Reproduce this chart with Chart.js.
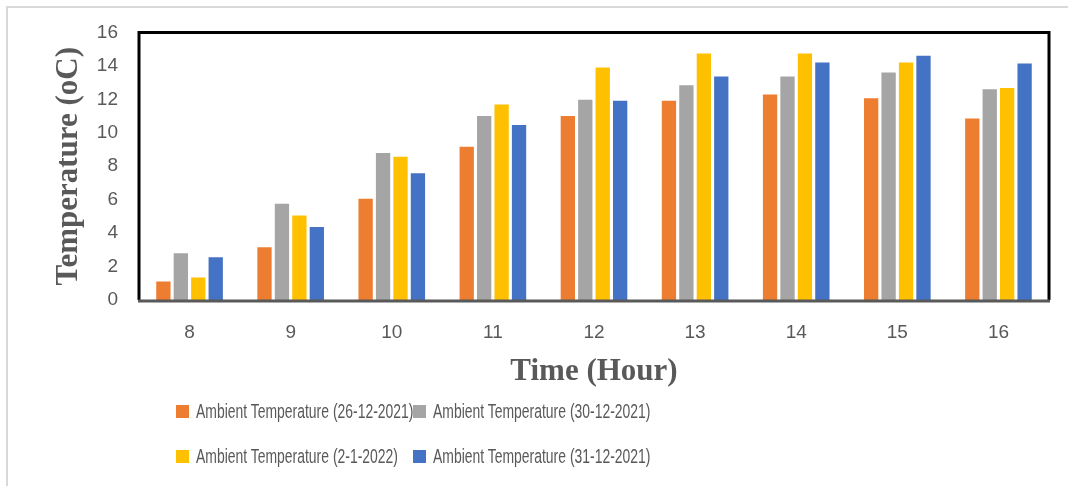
<!DOCTYPE html>
<html>
<head>
<meta charset="utf-8">
<script src="https://cdn.jsdelivr.net/npm/chart.js@4"></script>
<style>
  html, body { margin: 0; padding: 0; background: #fff; }
  #wrap { position: relative; width: 1068px; height: 486px; overflow: hidden; }
  #frame { position: absolute; left: 6px; top: 6px; right: 0; bottom: 0;
           border-left: 2px solid #d9d9d9; border-top: 2px solid #d9d9d9; pointer-events: none; }
  #legend { position: absolute; left: 176px; top: 399px; display: grid;
            grid-template-columns: 237px 400px; row-gap: 21px;
            font-family: 'Liberation Sans', sans-serif;
            font-size: 20.5px; color: #595959; }
  .item { display: flex; align-items: center; height: 24px; white-space: nowrap; }
  .box { width: 13px; height: 13px; margin-right: 7px; flex-shrink: 0; }
  .txt { display: inline-block; transform: scaleX(0.68); transform-origin: left center; }
</style>
</head>
<body>
<div id="wrap">
  <canvas id="chart" width="1068" height="486"></canvas>
  <div id="frame"></div>
  <div id="legend"></div>
</div>
<script>
// horas do dia
const hours = ['8', '9', '10', '11', '12', '13', '14', '15', '16'];

// temperatura ambiente por dia (oC)
const temp26Dec = [1.1, 3.15, 6.05, 9.17, 11.0, 11.92, 12.28, 12.06, 10.85];
const temp30Dec = [2.8, 5.75, 8.79, 11.0, 11.98, 12.84, 13.37, 13.6, 12.6];
const temp2Jan = [1.35, 5.05, 8.57, 11.69, 13.9, 14.74, 14.74, 14.2, 12.68];
const temp31Dec = [2.55, 4.36, 7.58, 10.46, 11.92, 13.37, 14.2, 14.6, 14.14];

const seriesLabels = [
    'Ambient Temperature (26-12-2021)',
    'Ambient Temperature (30-12-2021)',
    'Ambient Temperature (2-1-2022)',
    'Ambient Temperature (31-12-2021)'
];
const seriesColors = ['#ED7D31', '#A5A5A5', '#FFC000', '#4472C4'];
const seriesData = [temp26Dec, temp30Dec, temp2Jan, temp31Dec];

const yTicks = [0, 2, 4, 6, 8, 10, 12, 14, 16];

const gray = '#595959';
const tickFont = { family: "'Liberation Sans', sans-serif", size: 19 };
const titleFont = { family: "'Liberation Serif', serif", size: 31, weight: 'bold' };

// moldura preta em volta da área do gráfico
const plotFrame = {
    id: 'plotFrame',
    afterDatasetsDraw(chart) {
        const { ctx, chartArea: a } = chart;
        ctx.save();
        ctx.strokeStyle = '#000';
        ctx.lineWidth = 3;
        ctx.beginPath();
        ctx.moveTo(a.left, a.bottom);
        ctx.lineTo(a.left, a.top);
        ctx.lineTo(a.right, a.top);
        ctx.lineTo(a.right, a.bottom);
        ctx.stroke();
        ctx.strokeStyle = '#595959';
        ctx.beginPath();
        ctx.moveTo(a.left - 1, a.bottom + 1);
        ctx.lineTo(a.right + 1, a.bottom + 1);
        ctx.stroke();
        ctx.restore();
    }
};

const ctx = document.getElementById('chart').getContext('2d');
const myChart = new Chart(ctx, {
    type: 'bar',
    data: {
        labels: hours,
        datasets: seriesData.map((d, i) => ({
            label: seriesLabels[i],
            data: d,
            backgroundColor: seriesColors[i],
            borderWidth: 0,
            categoryPercentage: 0.69,
            barPercentage: 0.82
        }))
    },
    options: {
        responsive: false,
        animation: false,
        layout: { padding: { left: 50, top: 31, right: 19, bottom: 95 } },
        plugins: {
            legend: { display: false },
            tooltip: { enabled: false }
        },
        scales: {
            x: {
                grid: { display: false, drawTicks: false },
                border: { display: false },
                ticks: { color: gray, font: tickFont, padding: 21 },
                title: { display: true, text: 'Time (Hour)', color: gray, font: titleFont, padding: 0 },
                afterFit(scale) { scale.height = 91; }
            },
            y: {
                min: 0,
                max: 16,
                afterBuildTicks(scale) { scale.ticks = yTicks.map(v => ({ value: v })); },
                grid: { display: false, drawTicks: false },
                border: { display: false },
                ticks: { color: gray, font: tickFont, padding: 21 },
                title: { display: true, text: 'Temperature (oC)', color: gray, font: titleFont, padding: 0 },
                afterFit(scale) { scale.width = 89; }
            }
        }
    },
    plugins: [plotFrame]
});

// legenda em duas colunas, igual ao original
const legend = document.getElementById('legend');
myChart.data.datasets.forEach(ds => {
    const item = document.createElement('div');
    item.className = 'item';
    const box = document.createElement('span');
    box.className = 'box';
    box.style.background = ds.backgroundColor;
    const txt = document.createElement('span');
    txt.className = 'txt';
    txt.textContent = ds.label;
    item.appendChild(box);
    item.appendChild(txt);
    legend.appendChild(item);
});
</script>
</body>
</html>
